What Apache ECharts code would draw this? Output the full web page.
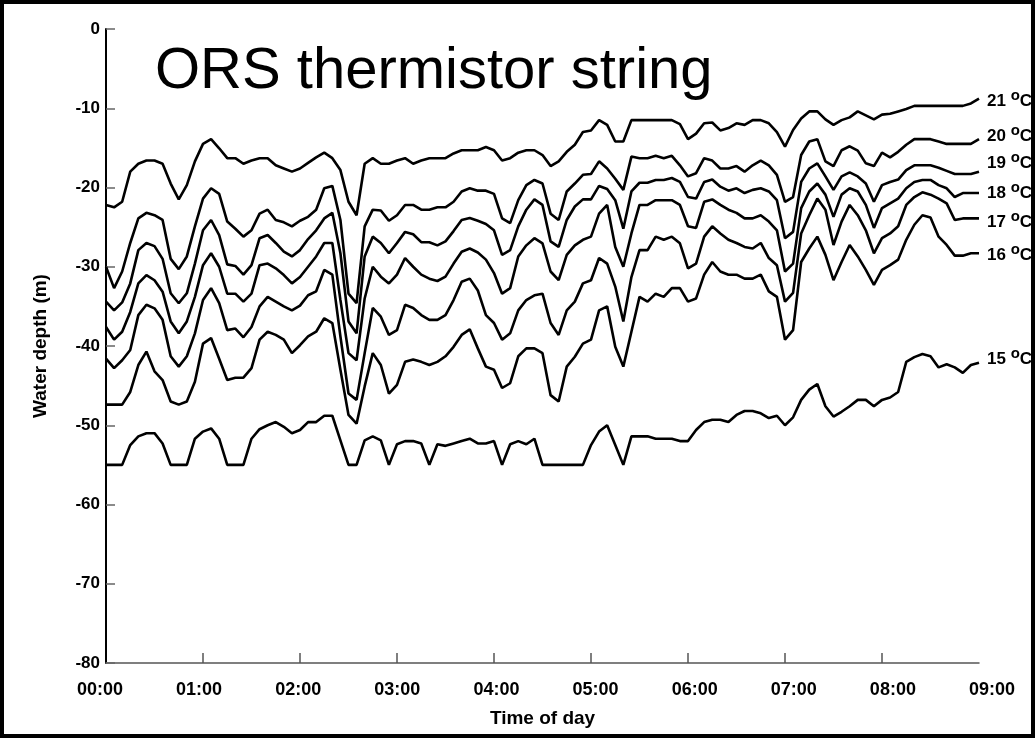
<!DOCTYPE html>
<html>
<head>
<meta charset="utf-8">
<script src="https://cdn.jsdelivr.net/npm/echarts@6/dist/echarts.min.js"></script>
<style>
html,body{margin:0;padding:0;background:#fff;}
#chart{width:1035px;height:738px;}
</style>
</head>
<body>
<div id="chart"></div>
<script>
// Time of each sample, minutes after 00:00 (5-minute record)
const MINUTES = [0,5,10,15,20,25,30,35,40,45,50,55,
 60,65,70,75,80,85,90,95,100,105,110,115,
 120,125,130,135,140,145,150,155,160,165,170,175,
 180,185,190,195,200,205,210,215,220,225,230,235,
 240,245,250,255,260,265,270,275,280,285,290,295,
 300,305,310,315,320,325,330,335,340,345,350,355,
 360,365,370,375,380,385,390,395,400,405,410,415,
 420,425,430,435,440,445,450,455,460,465,470,475,
 480,485,490,495,500,505,510,515,520,525,530,535,
 540];

// Depth (m) of each isotherm
const ISO_21 = [-22.2,-22.5,-21.8,-18.0,-17.0,-16.6,-16.6,-17.0,-19.5,-21.5,-19.7,-16.7,
 -14.5,-13.9,-15.05,-16.3,-16.3,-17.0,-16.6,-16.3,-16.3,-17.2,-17.6,-18.0,
 -17.6,-16.9,-16.2,-15.6,-16.3,-17.8,-21.8,-23.5,-17.0,-16.3,-17.0,-17.0,
 -16.6,-16.3,-17.0,-16.6,-16.3,-16.3,-16.3,-15.7,-15.3,-15.3,-15.3,-14.9,
 -15.3,-16.6,-16.3,-15.6,-15.3,-15.3,-15.9,-17.3,-16.7,-15.5,-14.6,-13.0,
 -12.8,-11.5,-12.1,-14.2,-14.2,-11.5,-11.5,-11.5,-11.5,-11.5,-11.5,-12.0,
 -13.9,-13.2,-11.9,-11.8,-12.8,-12.5,-11.9,-12.1,-11.5,-11.5,-11.9,-13.0,
 -14.85,-12.75,-11.3,-10.4,-10.4,-11.4,-12.1,-11.5,-11.15,-10.4,-10.9,-11.4,
 -10.8,-10.7,-10.4,-10.1,-9.7,-9.7,-9.7,-9.7,-9.7,-9.7,-9.7,-9.4,
 -8.8];
const ISO_20 = [-30.0,-32.7,-30.6,-27.0,-23.9,-23.2,-23.5,-24.1,-29.0,-30.3,-28.7,-24.9,
 -21.4,-20.1,-20.8,-24.3,-25.2,-26.2,-25.4,-23.3,-22.8,-24.1,-24.4,-24.9,
 -24.2,-23.7,-22.8,-20.1,-19.8,-24.1,-33.4,-34.6,-24.9,-22.8,-22.9,-24.2,
 -23.5,-22.2,-22.2,-22.8,-22.8,-22.5,-22.5,-21.8,-20.5,-20.1,-20.4,-20.4,
 -20.8,-23.9,-24.5,-21.6,-19.7,-19.05,-19.5,-23.3,-24.1,-20.5,-19.5,-18.4,
 -18.3,-16.7,-17.6,-18.9,-20.3,-16.1,-16.3,-16.3,-16.0,-16.3,-16.0,-17.2,
 -18.6,-18.2,-16.3,-16.6,-17.6,-17.6,-17.3,-18.0,-17.2,-16.6,-17.2,-18.4,
 -21.8,-21.2,-15.9,-14.2,-13.9,-16.7,-17.3,-15.3,-14.8,-15.35,-16.95,-17.3,
 -15.6,-16.2,-15.5,-14.6,-13.9,-13.9,-13.9,-14.2,-14.5,-14.5,-14.5,-14.5,
 -13.9];
const ISO_19 = [-34.4,-35.5,-34.5,-32.1,-27.9,-27.0,-27.4,-29.0,-33.35,-34.6,-33.35,-29.6,
 -25.4,-24.1,-26.0,-29.7,-29.9,-31.0,-29.8,-26.4,-26.0,-27.0,-28.1,-28.7,
 -27.9,-26.5,-25.4,-23.9,-23.2,-28.3,-36.9,-38.4,-28.7,-26.2,-27.0,-28.3,
 -27.0,-25.6,-25.9,-26.9,-26.9,-27.3,-26.8,-25.5,-24.1,-23.85,-24.2,-24.6,
 -25.4,-28.5,-27.9,-24.9,-22.8,-21.5,-22.2,-26.8,-27.5,-24.1,-22.4,-21.5,
 -21.5,-19.8,-20.2,-21.6,-25.2,-20.5,-19.4,-19.4,-19.05,-19.05,-18.8,-19.3,
 -21.2,-21.4,-19.3,-19.0,-19.9,-20.4,-20.1,-20.7,-20.3,-20.1,-20.5,-21.6,
 -26.4,-25.6,-19.3,-17.6,-16.95,-18.6,-20.3,-18.6,-18.1,-18.6,-19.5,-21.8,
 -19.7,-19.3,-19.0,-17.8,-17.2,-17.2,-17.2,-17.5,-17.9,-18.3,-18.3,-18.3,
 -18.0];
const ISO_18 = [-37.6,-39.2,-38.2,-35.7,-32.1,-31.05,-31.7,-33.15,-36.9,-38.4,-36.9,-33.8,
 -29.8,-28.3,-30.0,-33.4,-33.4,-34.4,-33.4,-29.8,-29.6,-30.2,-31.05,-32.1,
 -31.3,-30.0,-28.7,-27.0,-27.0,-34.2,-40.9,-41.8,-34.0,-30.0,-31.25,-32.1,
 -31.0,-28.9,-30.0,-31.0,-31.5,-31.8,-31.25,-29.6,-28.1,-27.7,-28.2,-29.1,
 -30.8,-33.4,-32.7,-28.7,-27.3,-26.4,-27.05,-30.6,-31.7,-28.5,-27.3,-26.6,
 -26.2,-23.3,-22.2,-27.5,-30.0,-25.8,-22.2,-22.2,-21.6,-21.6,-21.6,-22.2,
 -24.9,-25.1,-21.8,-21.5,-22.2,-22.8,-23.2,-23.9,-23.9,-23.5,-24.3,-25.4,
 -30.6,-29.6,-22.6,-20.5,-19.5,-20.9,-23.7,-20.9,-20.1,-20.5,-22.2,-25.1,
 -22.6,-22.0,-21.4,-20.1,-19.3,-19.05,-19.05,-19.7,-20.1,-21.2,-20.7,-20.7,
 -20.7];
const ISO_17 = [-41.6,-42.8,-41.8,-40.5,-36.1,-34.8,-35.25,-36.7,-41.3,-42.6,-41.3,-38.4,
 -34.2,-32.7,-34.6,-38.0,-37.8,-38.9,-37.6,-35.0,-33.8,-34.4,-35.0,-35.5,
 -34.9,-33.6,-33.1,-30.4,-31.0,-38.8,-46.0,-46.8,-40.9,-35.2,-36.3,-38.6,
 -38.0,-34.8,-35.2,-36.1,-36.7,-36.7,-36.1,-34.2,-31.9,-31.5,-33.0,-36.1,
 -37.1,-39.2,-38.4,-35.5,-34.2,-33.6,-33.4,-37.1,-38.6,-35.5,-34.4,-32.1,
 -31.7,-28.9,-29.6,-32.5,-36.9,-31.3,-27.9,-27.9,-26.2,-26.6,-26.2,-27.05,
 -30.2,-29.6,-26.2,-24.9,-25.8,-26.6,-27.0,-27.5,-27.7,-27.0,-28.9,-29.8,
 -34.4,-33.3,-25.8,-23.5,-21.4,-22.8,-27.25,-24.3,-22.2,-23.5,-25.4,-28.3,
 -26.4,-25.8,-24.9,-22.2,-21.2,-20.6,-20.9,-21.4,-22.0,-24.1,-23.9,-23.9,
 -23.9];
const ISO_16 = [-47.4,-47.4,-47.4,-45.8,-42.4,-40.7,-43.2,-44.3,-47.0,-47.4,-47.0,-44.5,
 -39.7,-39.0,-41.6,-44.3,-44.0,-44.0,-42.8,-39.2,-38.2,-38.6,-39.2,-40.9,
 -39.9,-38.8,-38.2,-36.5,-37.1,-43.0,-48.7,-49.8,-45.1,-40.9,-42.4,-46.0,
 -44.9,-42.0,-41.7,-42.0,-42.4,-42.0,-41.3,-40.1,-38.6,-37.9,-40.3,-42.6,
 -43.0,-45.3,-44.7,-41.3,-40.3,-40.3,-40.9,-46.2,-47.0,-42.6,-41.35,-39.7,
 -39.2,-35.5,-35.0,-40.1,-42.6,-38.2,-33.8,-34.4,-33.4,-33.8,-32.7,-32.7,
 -34.4,-34.0,-31.0,-29.4,-30.6,-31.0,-31.0,-31.5,-31.5,-31.0,-33.1,-33.8,
 -39.2,-38.0,-29.4,-27.7,-26.2,-28.5,-31.7,-29.4,-27.25,-28.7,-30.4,-32.3,
 -30.4,-29.8,-29.1,-26.6,-24.7,-23.5,-23.8,-26.2,-27.25,-28.6,-28.6,-28.3,
 -28.3];
const ISO_15 = [-55.0,-55.0,-55.0,-52.5,-51.4,-51.0,-51.0,-52.3,-55.0,-55.0,-55.0,-51.7,
 -50.8,-50.4,-51.7,-55.0,-55.0,-55.0,-51.7,-50.5,-50.0,-49.6,-50.2,-51.0,
 -50.6,-49.6,-49.6,-48.8,-48.8,-51.9,-55.0,-55.0,-51.9,-51.4,-51.9,-55.0,
 -52.4,-52.0,-52.0,-52.3,-55.0,-52.4,-52.6,-52.3,-52.0,-51.7,-52.3,-52.3,
 -52.0,-55.0,-52.4,-52.0,-52.4,-51.7,-55.0,-55.0,-55.0,-55.0,-55.0,-55.0,
 -52.5,-50.8,-50.0,-52.5,-55.0,-51.4,-51.4,-51.4,-51.7,-51.7,-51.7,-52.0,
 -52.0,-50.6,-49.6,-49.3,-49.3,-49.6,-48.7,-48.2,-48.2,-48.5,-49.1,-48.8,
 -50.0,-49.0,-46.8,-45.5,-44.8,-47.6,-48.9,-48.3,-47.6,-46.8,-46.8,-47.6,
 -46.8,-46.5,-45.8,-42.0,-41.4,-41.0,-41.3,-42.7,-42.3,-42.7,-43.4,-42.4,
 -42.1];

const ISO_NAMES = ['21','20','19','18','17','16','15'];
const ISO_DEPTHS = [ISO_21, ISO_20, ISO_19, ISO_18, ISO_17, ISO_16, ISO_15];
const TIME_LABELS = ['00:00','01:00','02:00','03:00','04:00','05:00','06:00','07:00','08:00','09:00'];
const X_TICK_MINUTES = [60,120,180,240,300,360,420,480];

const TITLE = 'ORS thermistor string';
const X_NAME = 'Time of day';
const Y_NAME = 'Water depth (m)';

// label vertical nudges (layout only)
const LABEL_DY = [3, -3, -8, 0, 4, 2, -3];

const FONT = '"Liberation Sans", Arial, sans-serif';

const chart = echarts.init(document.getElementById('chart'), null, {renderer: 'canvas'});

const series = ISO_NAMES.map((name, k) => ({
  name: name,
  type: 'line',
  xAxisIndex: 0,
  yAxisIndex: 0,
  data: MINUTES.map((m, i) => [m, ISO_DEPTHS[k][i]]),
  showSymbol: false,
  symbol: 'none',
  lineStyle: {color: '#000', width: 2.6},
  itemStyle: {color: '#000'},
  emphasis: {disabled: true},
  silent: true,
  clip: false,
  endLabel: {
    show: true,
    distance: 8,
    offset: [0, LABEL_DY[k]],
    formatter: p => '{n|' + p.seriesName + ' }{s|o}{n|C}',
    rich: {
      n: {fontFamily: FONT, fontSize: 17, fontWeight: 'bold', color: '#000'},
      s: {fontFamily: FONT, fontSize: 15, fontWeight: 'bold', color: '#000', padding: [0, 0, 11, 0]}
    }
  }
}));

chart.setOption({
  animation: false,
  backgroundColor: '#fff',
  title: {
    text: TITLE,
    left: 150,
    top: 38,
    textStyle: {fontFamily: FONT, fontSize: 58, fontWeight: 'normal', color: '#000'}
  },
  grid: [
    {left: 106, right: 56, top: 29, bottom: 75},
    {left: 100, right: 43, top: 29, bottom: 75}
  ],
  xAxis: [
    {
      gridIndex: 0, type: 'value', min: 0, max: 540, interval: 60,
      name: X_NAME, nameLocation: 'middle', nameGap: 46,
      nameTextStyle: {fontFamily: FONT, fontSize: 19, fontWeight: 'bold', color: '#000'},
      axisLine: {show: true, onZero: false, lineStyle: {color: '#555', width: 1.5}},
      axisTick: {show: true, inside: true, length: 10, customValues: X_TICK_MINUTES, lineStyle: {color: '#555', width: 1.5}},
      axisLabel: {show: false},
      splitLine: {show: false}
    },
    {
      gridIndex: 1, type: 'value', min: 0, max: 540, interval: 60,
      axisLine: {show: false}, axisTick: {show: false}, splitLine: {show: false},
      axisLabel: {
        show: true, margin: 18,
        fontFamily: FONT, fontSize: 18, fontWeight: 'bold', color: '#000',
        formatter: v => TIME_LABELS[Math.round(v / 60)]
      }
    }
  ],
  yAxis: [
    {
      gridIndex: 0, type: 'value', min: -80, max: 0, interval: 10,
      name: Y_NAME, nameLocation: 'middle', nameGap: 56, nameRotate: 90,
      nameTextStyle: {fontFamily: FONT, fontSize: 19, fontWeight: 'bold', color: '#000'},
      axisLine: {show: true, onZero: false, lineStyle: {color: '#000', width: 2}},
      axisTick: {show: true, inside: true, length: 9, lineStyle: {color: '#666', width: 1.5}},
      axisLabel: {margin: 6, fontFamily: FONT, fontSize: 17, fontWeight: 'bold', color: '#000'},
      splitLine: {show: false}
    },
    {gridIndex: 1, type: 'value', min: -80, max: 0, show: false}
  ],
  series: series,
  graphic: [{
    type: 'rect', z: 100, silent: true,
    shape: {x: 2, y: 2, width: 1031, height: 734},
    style: {fill: 'none', stroke: '#000', lineWidth: 4}
  }]
});
</script>
</body>
</html>
